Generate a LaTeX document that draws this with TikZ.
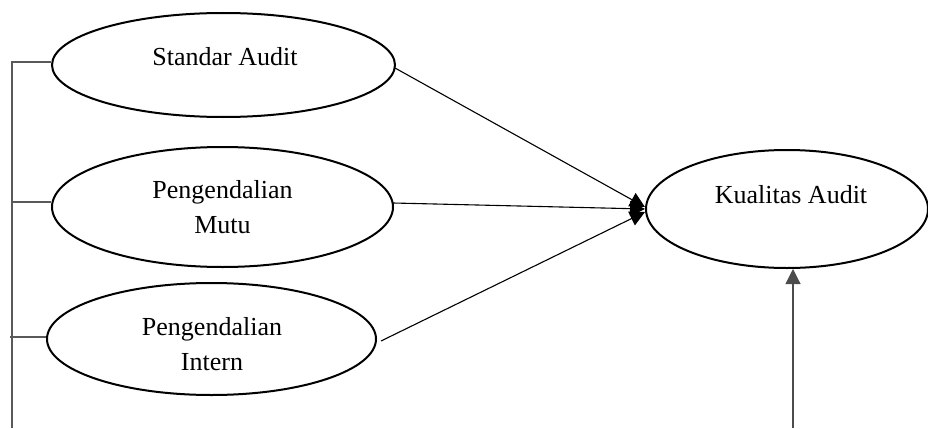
\documentclass[tikz,border=0pt]{standalone}
\usepackage{fontspec}
\setmainfont{Liberation Serif}
\usetikzlibrary{shapes.geometric,arrows.meta}
\begin{document}
\begin{tikzpicture}[x=1pt,y=-1pt,
  oval/.style={draw,ellipse,line width=2pt,inner sep=0pt,align=center,
    font=\fontsize{26}{35}\selectfont},
  conn/.style={line width=1.1pt,-{Triangle[length=15pt,width=15pt]}},
  bracket/.style={draw=black!65,line width=1.4pt}]
\useasboundingbox (0,0) rectangle (928,428);
% ellipses
\node[oval,minimum width=343pt,minimum height=104pt] (e1) at (223.5,65) {};
\node[font=\fontsize{26}{35}\selectfont] (t1) at (225,57) {Standar Audit};
\node[oval,minimum width=341pt,minimum height=120pt] (e2) at (222.5,207) {Pengendalian\\Mutu};
\node[oval,minimum width=329pt,minimum height=112pt] (e3) at (211.5,339) {};
\node[font=\fontsize{26}{35}\selectfont,align=center] (t3) at (212,344) {Pengendalian\\Intern};
\node[oval,minimum width=282pt,minimum height=118pt] (k) at (787,209) {};
\node[font=\fontsize{26}{35}\selectfont] (tk) at (791,195) {Kualitas Audit};
% bracket on the left
\coordinate (b0) at (12,428);
\coordinate (b1) at (12,62);
\coordinate (b2) at (12,202);
\coordinate (b3) at (10,337);
\draw[bracket] (b0) -- (b1) -- (e1.west |- b1);
\draw[bracket] (b2) -- (e2.west |- b2);
\draw[bracket] (b3) -- (e3.west |- b3);
% arrows
\coordinate (s1) at (395,68);
\coordinate (s2) at (393,203);
\coordinate (s3) at (381,341);
\coordinate (k1) at ([yshift=2pt]k.west);
\coordinate (k2) at (k.west);
\coordinate (k3) at ([yshift=-3pt]k.west);
\draw[conn] (s1) -- (k1);
\draw[conn] (s2) -- (k2);
\draw[conn] (s3) -- (k3);
\coordinate (v0) at (793,428);
\draw[conn,draw=black!70] (v0) -- (v0 |- k.south);
\end{tikzpicture}
\end{document}
